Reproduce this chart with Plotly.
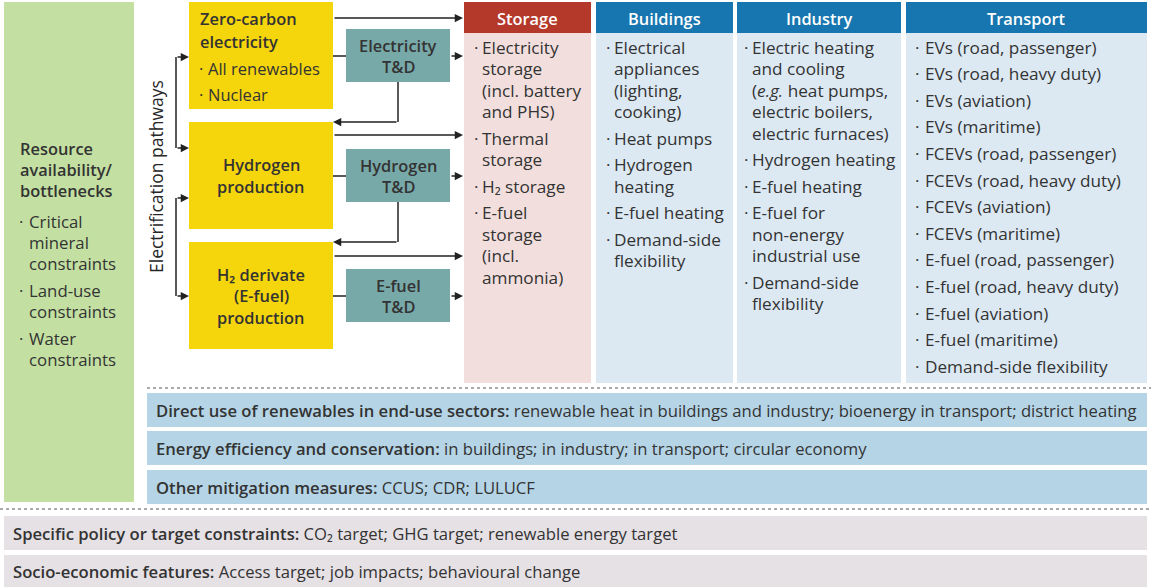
import plotly.graph_objects as go

# ---------------- data (text content of the diagram) ----------------
resource_title = ["Resource", "availability/", "bottlenecks"]
resource_items = [["Critical", "mineral", "constraints"], ["Land-use", "constraints"], ["Water", "constraints"]]

supply_titles = [["Zero-carbon", "electricity"], ["Hydrogen", "production"], ["H₂ derivate", "(E-fuel)", "production"]]
zero_carbon_items = ["All renewables", "Nuclear"]
td_titles = [["Electricity", "T&D"], ["Hydrogen", "T&D"], ["E-fuel", "T&D"]]
side_label = "Electrification pathways"

sectors = ["Storage", "Buildings", "Industry", "Transport"]
storage_items = [["Electricity", "storage", "(incl. battery", "and PHS)"], ["Thermal", "storage"],
                 ["H₂ storage"], ["E-fuel", "storage", "(incl.", "ammonia)"]]
buildings_items = [["Electrical", "appliances", "(lighting,", "cooking)"], ["Heat pumps"],
                   ["Hydrogen", "heating"], ["E-fuel heating"], ["Demand-side", "flexibility"]]
industry_items = [["Electric heating", "and cooling", "(<i>e.g.</i> heat pumps,", "electric boilers,", "electric furnaces)"],
                  ["Hydrogen heating"], ["E-fuel heating"], ["E-fuel for", "non-energy", "industrial use"],
                  ["Demand-side", "flexibility"]]
transport_items = [["EVs (road, passenger)"], ["EVs (road, heavy duty)"], ["EVs (aviation)"], ["EVs (maritime)"],
                   ["FCEVs (road, passenger)"], ["FCEVs (road, heavy duty)"], ["FCEVs (aviation)"],
                   ["FCEVs (maritime)"], ["E-fuel (road, passenger)"], ["E-fuel (road, heavy duty)"],
                   ["E-fuel (aviation)"], ["E-fuel (maritime)"], ["Demand-side flexibility"]]
sector_items = [storage_items, buildings_items, industry_items, transport_items]

measure_labels = ["Direct use of renewables in end-use sectors:", "Energy efficiency and conservation:",
                  "Other mitigation measures:"]
measure_texts = ["renewable heat in buildings and industry; bioenergy in transport; district heating",
                 "in buildings; in industry; in transport; circular economy", "CCUS; CDR; LULUCF"]
constraint_labels = ["Specific policy or target constraints:", "Socio-economic features:"]
constraint_texts = ["CO₂ target; GHG target; renewable energy target", "Access target; job impacts; behavioural change"]

# ---------------- style / layout ----------------
W, H = 1151, 587
FONT = "Open Sans"
FS = 16.5        # general regular text
FS_BAR = 16.65   # horizontal bar text
FS_COL = 17.2    # sector column items
FS_RES = 16.8    # resource box items
FS_B = 16.4      # bold titles
SEMI = 600
TXT = "#333333"
GREEN, YELLOW, TEAL = "#C3E0A2", "#F5D50C", "#78A9A9"
RED_H, RED_B = "#B5392A", "#F2DFDD"
BLUE_H, BLUE_B = "#1776AF", "#DCE9F3"
BAR, GREY = "#B5D5E6", "#E6E1E5"
ARROW = "#222222"

shapes, anns = [], []


def rect(x0, y0, x1, y1, color):
    shapes.append(dict(type="rect", x0=x0, y0=y0, x1=x1, y1=y1, fillcolor=color,
                       line=dict(width=0), layer="below"))


def text(x, y, s, size=FS, color=TXT, xanchor="left", weight=400, angle=0):
    anns.append(dict(x=x, y=y, xref="x", yref="y", text=s, showarrow=False, xanchor=xanchor,
                     yanchor="middle", textangle=angle,
                     font=dict(family=FONT, size=size, color=color, weight=weight)))


def arrow(x0, y0, x1, y1):
    anns.append(dict(x=x1, y=y1, ax=x0, ay=y0, xref="x", yref="y", axref="x", ayref="y", text="",
                     showarrow=True, arrowhead=2, arrowsize=1.1, arrowwidth=1.5, arrowcolor=ARROW,
                     standoff=0, startstandoff=0))


def path(pts):
    d = "M " + " L ".join(f"{x},{y}" for x, y in pts)
    shapes.append(dict(type="path", path=d, line=dict(color=ARROW, width=1.5)))


# resource box
rect(4, 2, 134, 502, GREEN)
y = 148
for ln in resource_title:
    text(18, y, ln, size=FS_B, weight=SEMI)
    y += 21
y += 10
for item in resource_items:
    text(17, y, "·", size=FS_RES)
    for ln in item:
        text(27, y, ln, size=FS_RES)
        y += 21.3
    y += 5.5

# supply boxes
box_x0, box_x1 = 189, 333
box_y = [(2, 109), (122, 229), (242, 349)]
td_x0, td_x1 = 346, 450
td_y = [(29, 82), (149, 202), (269, 322)]
for (y0, y1) in box_y:
    rect(box_x0, y0, box_x1, y1, YELLOW)
for (y0, y1) in td_y:
    rect(td_x0, y0, td_x1, y1, TEAL)

# zero-carbon text (left aligned)
text(198, 18, supply_titles[0][0], size=FS_B, weight=SEMI)
text(198, 41, supply_titles[0][1], size=FS_B, weight=SEMI)
for i, it in enumerate(zero_carbon_items):
    text(197, 68 + 26.5 * i, "·")
    text(206, 68 + 26.5 * i, it)
# hydrogen / derivate titles (centered)
for k in (1, 2):
    y0, y1 = box_y[k]
    lines = supply_titles[k]
    cy = (y0 + y1) / 2
    for j, ln in enumerate(lines):
        text(261, cy + (j - (len(lines) - 1) / 2) * 21.5, ln, size=FS_B, weight=SEMI, xanchor="center")
# T&D titles
for k, (y0, y1) in enumerate(td_y):
    cy = (y0 + y1) / 2
    for j, ln in enumerate(td_titles[k]):
        text(398, cy + (j - 0.5) * 21, ln, size=FS_B, weight=SEMI, xanchor="center")

# side label
text(156, 177, side_label, size=17.5, angle=-90, color="#262626", xanchor="center", weight=500)

# connectors
col_left = 463
arrow(box_x1, 18, col_left, 18)
path([(box_x1, 56), (td_x0, 56)])
arrow(td_x1, 56, col_left, 56)
path([(398, 82), (398, 122)])
arrow(398, 122, box_x1, 122)
arrow(box_x1, 135, col_left, 135)
path([(box_x1, 176), (td_x0, 176)])
arrow(td_x1, 176, col_left, 176)
path([(398, 202), (398, 242)])
arrow(398, 242, box_x1, 242)
arrow(box_x1, 256, col_left, 256)
path([(box_x1, 296), (td_x0, 296)])
arrow(td_x1, 296, col_left, 296)
# brackets
path([(176, 57), (176, 148)])
arrow(176, 57, box_x0, 57)
arrow(176, 148, box_x0, 148)
path([(176, 198), (176, 296)])
arrow(176, 198, box_x0, 198)
arrow(176, 296, box_x0, 296)

# sector columns
col_x = [(464, 591), (596, 733), (737, 901), (906, 1147)]
bullet_dx = [8, 8, 5, 7]
text_dx = [16, 16, 13, 17]
for k, name in enumerate(sectors):
    x0, x1 = col_x[k]
    rect(x0, 2, x1, 33, RED_H if k == 0 else BLUE_H)
    rect(x0, 33, x1, 383, RED_B if k == 0 else BLUE_B)
    text((x0 + x1) / 2, 18, name, size=FS_B, color="white", weight=SEMI, xanchor="center")
    y = 47
    for item in sector_items[k]:
        text(x0 + bullet_dx[k], y, "·", size=FS_COL)
        for ln in item:
            text(x0 + text_dx[k], y, ln, size=FS_COL)
            y += 21.5
        y += 5.1

# dotted separators
shapes.append(dict(type="line", x0=147, x1=1151, y0=388, y1=388, line=dict(color="#555", width=1, dash="dot")))
shapes.append(dict(type="line", x0=0, x1=1151, y0=509, y1=509, line=dict(color="#555", width=1, dash="dot")))

# measure bars
SPAN = '<span style="font-weight:600">'
bar_y = [(393, 427), (431, 465), (470, 504)]
for k, (y0, y1) in enumerate(bar_y):
    rect(147, y0, 1147, y1, BAR)
    text(154, (y0 + y1) / 2, SPAN + measure_labels[k] + "</span> " + measure_texts[k], size=FS_BAR)
cbar_y = [(516, 550), (555, 587)]
for k, (y0, y1) in enumerate(cbar_y):
    rect(4, y0, 1147, y1, GREY)
    text(11, (y0 + y1) / 2, SPAN + constraint_labels[k] + "</span> " + constraint_texts[k], size=FS_BAR)

fig = go.Figure()
fig.update_layout(
    width=W, height=H, margin=dict(l=0, r=0, t=0, b=0),
    paper_bgcolor="white", plot_bgcolor="white", showlegend=False,
    xaxis=dict(range=[0, W], visible=False, fixedrange=True),
    yaxis=dict(range=[H, 0], visible=False, fixedrange=True),
    shapes=shapes, annotations=anns,
)
fig.write_html("out.html", config={"displayModeBar": False},
               post_script="document.body.style.margin='0';document.body.style.overflow='hidden';")
